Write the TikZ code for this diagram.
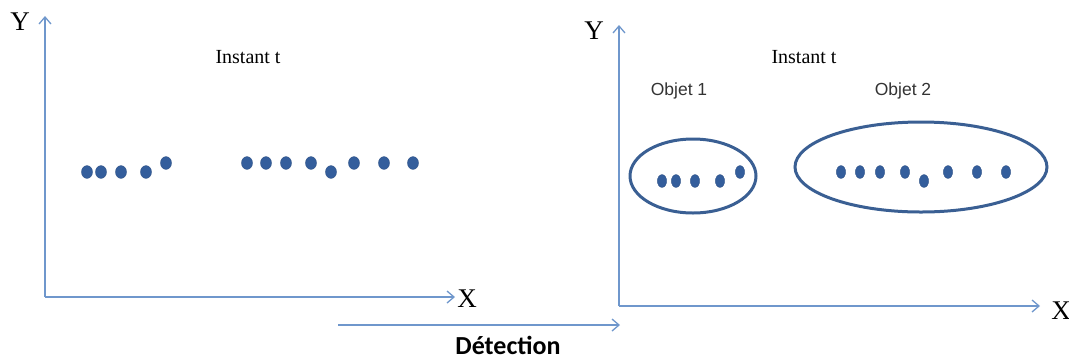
\documentclass[tikz,border=0pt]{standalone}
\usepackage{fontspec}
\setmainfont{Liberation Serif}
\newfontfamily\labelsans{Liberation Sans}
\newfontfamily\captionsans{Carlito}
\usetikzlibrary{arrows.meta}
\definecolor{axisblue}{HTML}{6F97CC}
\definecolor{dotblue}{HTML}{345E9C}
\definecolor{ringblue}{HTML}{3A5F93}
\tikzset{
  axis/.style={draw=axisblue, line width=2pt, -{Straight Barb[length=7pt,width=12pt,line width=1.3pt]}},
  pt/.style={fill=dotblue, draw=dotblue!85!black, line width=0.4pt},
  ring/.style={draw=ringblue, line width=3pt},
  axlabel/.style={font=\fontsize{27}{27}\selectfont, inner sep=0pt},
  title/.style={font=\fontsize{20}{20}\selectfont, inner sep=0pt},
  objlabel/.style={font=\labelsans\fontsize{17.5}{17.5}\selectfont, text=black!80, inner sep=0pt},
}
\newcommand{\dotat}[3]{\fill[pt] (#1,#2) ellipse [x radius=#3, y radius=6.4pt];}
\begin{document}
\begin{tikzpicture}[x=1pt,y=-1pt]
  \useasboundingbox (0,0) rectangle (1069,360);

  % ---- left panel: raw points ----
  \coordinate (oL) at (45,297);
  \coordinate (yL) at (45,16);
  \coordinate (xL) at (455,297);
  \draw[axis] (oL) -- (yL);
  \draw[axis] (oL) -- (xL);
  \node[axlabel] (labYL) at (20,22) {Y};
  \node[axlabel] (labXL) at (467,299) {X};
  \node[title] (instL) at (248,57) {Instant t};

  \foreach \x in {87,101,121,146} {\dotat{\x}{172}{5.5pt}}
  \dotat{166}{163}{5.5pt}
  \foreach \x in {247,266,286,311,354,384,413} {\dotat{\x}{163}{5.5pt}}
  \dotat{331}{172}{5.5pt}

  % ---- right panel: detected objects ----
  \coordinate (oR) at (619,306);
  \coordinate (yR) at (619,25);
  \coordinate (xR) at (1040,306);
  \draw[axis] (oR) -- (yR);
  \draw[axis] (oR) -- (xR);
  \node[axlabel] (labYR) at (594,31) {Y};
  \node[axlabel] (labXR) at (1061,311) {X};
  \node[title] (instR) at (804,57) {Instant t};
  \node[objlabel] (obj1) at (679,91) {Objet 1};
  \node[objlabel] (obj2) at (903,91) {Objet 2};

  \draw[ring] (693,176) ellipse [x radius=63, y radius=37];
  \draw[ring] (921,167) ellipse [x radius=126, y radius=45];

  \foreach \x in {662,676,695,720} {\dotat{\x}{181}{4.6pt}}
  \dotat{740}{172}{4.6pt}
  \foreach \x in {841,860,880,905,948,977,1006} {\dotat{\x}{172}{4.6pt}}
  \dotat{924}{181}{4.6pt}

  % ---- detection step ----
  \coordinate (dA) at (338,325);
  \coordinate (dB) at (620,325);
  \draw[axis, line width=1.5pt] (dA) -- (dB);
  \node[font=\captionsans\bfseries\fontsize{26}{26}\selectfont, inner sep=0pt, anchor=base] (det) at (508,354) {Détection};
\end{tikzpicture}
\end{document}
